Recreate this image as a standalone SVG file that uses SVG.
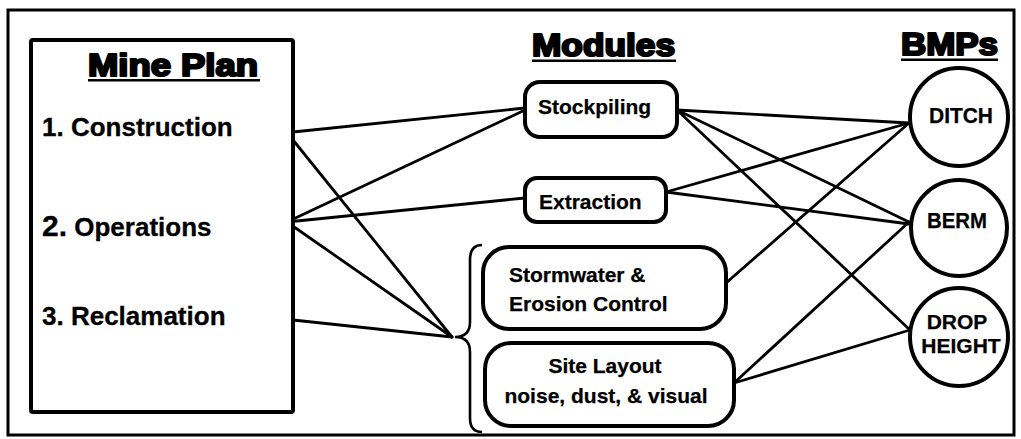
<svg xmlns="http://www.w3.org/2000/svg" width="1021" height="439" viewBox="0 0 1021 439">
<style>
.title{font-family:"Liberation Sans",Arial,sans-serif;font-weight:bold;font-size:31px;fill:#000;stroke:#000;stroke-width:2.2px;stroke-linejoin:round;}
.ul{fill:#000;}
.plan{font-family:"Liberation Sans",Arial,sans-serif;font-weight:bold;font-size:26px;fill:#000;stroke:#000;stroke-width:0.3px;}
.mod{font-family:"Liberation Sans",Arial,sans-serif;font-weight:bold;font-size:21px;fill:#000;stroke:#000;stroke-width:0.25px;}
.bmp{font-family:"Liberation Sans",Arial,sans-serif;font-weight:bold;font-size:22px;fill:#000;stroke:#000;stroke-width:0.25px;}
.box{fill:#fff;stroke:#000;stroke-width:4;}
.conn line{stroke:#000;stroke-width:2.8;stroke-linecap:round;}
.brace{fill:none;stroke:#000;stroke-width:2.6;}
</style>
<rect x="0" y="0" width="1021" height="439" fill="#fff"/>
<rect id="frame" x="8" y="10" width="1006" height="425" fill="none" stroke="#000" stroke-width="3"/>

<g id="connectors" class="conn">
  <line x1="293" y1="132" x2="525" y2="108"/>
  <line x1="293" y1="140" x2="452" y2="337"/>
  <line x1="287" y1="222" x2="525" y2="110"/>
  <line x1="287" y1="222" x2="525" y2="198"/>
  <line x1="287" y1="222" x2="452" y2="337"/>
  <line x1="293" y1="320" x2="452" y2="337"/>
  <line x1="677" y1="110" x2="909" y2="123"/>
  <line x1="677" y1="110" x2="909" y2="222"/>
  <line x1="677" y1="110" x2="910" y2="330"/>
  <line x1="666" y1="192" x2="909" y2="123"/>
  <line x1="666" y1="192" x2="909" y2="224"/>
  <line x1="726" y1="283" x2="909" y2="123"/>
  <line x1="734" y1="383" x2="909" y2="222"/>
  <line x1="734" y1="383" x2="910" y2="330"/>
</g>

<g id="mine-plan">
  <rect class="box" x="31" y="40" width="262" height="372" rx="2"/>
  <text class="title" x="88" y="76" textLength="170" lengthAdjust="spacingAndGlyphs">Mine Plan</text>
  <rect class="ul" x="88" y="79" width="172" height="2.5"/>
  <text class="plan" x="42" y="136">1. Construction</text>
  <text class="plan" x="42" y="236"><tspan font-size="30px">2.</tspan> Operations</text>
  <text class="plan" x="42" y="325">3. Reclamation</text>
</g>

<g id="modules-title">
  <text class="title" x="532" y="56" textLength="143" lengthAdjust="spacingAndGlyphs">Modules</text>
  <rect class="ul" x="532" y="59.5" width="144" height="2.5"/>
</g>

<g id="bmps-title">
  <text class="title" x="901" y="55" textLength="97" lengthAdjust="spacingAndGlyphs">BMPs</text>
  <rect class="ul" x="901" y="58.5" width="97" height="2.5"/>
</g>

<g id="stockpiling">
  <rect class="box" x="525" y="82" width="152" height="55" rx="15"/>
  <text class="mod" x="538" y="114">Stockpiling</text>
</g>

<g id="extraction">
  <rect class="box" x="525" y="178" width="141" height="44" rx="12"/>
  <text class="mod" x="539" y="209">Extraction</text>
</g>

<g id="brace">
  <path class="brace" d="M482 245 Q470 245 470 260 L470 322 Q470 337 455 337 Q470 337 470 352 L470 418 Q470 432 482 432"/>
</g>

<g id="stormwater">
  <rect class="box" x="483" y="247" width="243" height="82" rx="26"/>
  <text class="mod" x="509" y="282">Stormwater &amp;</text>
  <text class="mod" x="509" y="311">Erosion Control</text>
</g>

<g id="site-layout">
  <rect class="box" x="485" y="343" width="249" height="83" rx="26"/>
  <text class="mod" x="605" y="373" text-anchor="middle">Site Layout</text>
  <text class="mod" x="606" y="403" text-anchor="middle">noise, dust, &amp; visual</text>
</g>

<g id="ditch">
  <circle class="box" cx="959" cy="117" r="49"/>
  <text class="bmp" x="961" y="123" text-anchor="middle" textLength="64" lengthAdjust="spacingAndGlyphs">DITCH</text>
</g>

<g id="berm">
  <circle class="box" cx="959" cy="228" r="48"/>
  <text class="bmp" x="957" y="228" text-anchor="middle" textLength="60" lengthAdjust="spacingAndGlyphs">BERM</text>
</g>

<g id="drop-height">
  <circle class="box" cx="959" cy="337" r="49"/>
  <text class="mod" x="957" y="329" text-anchor="middle">DROP</text>
  <text class="mod" x="961" y="353" text-anchor="middle">HEIGHT</text>
</g>
</svg>
